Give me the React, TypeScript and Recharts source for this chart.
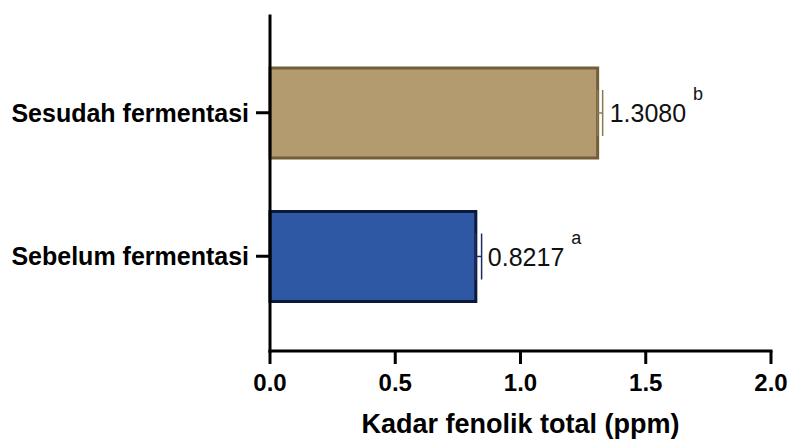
import React from "react";
import { BarChart, Bar, XAxis, YAxis, ErrorBar, LabelList, Label } from "recharts";

const categories = ["Sesudah fermentasi", "Sebelum fermentasi"];
const seriesKeys = ["sesudah", "sebelum"];
const kadarFenolik = [1.308, 0.8217];
const kadarLabels = ["1.3080", "0.8217"];
const galat = [0.02, 0.023];
const notasi = ["b", "a"];
const xTicks = [0, 0.5, 1, 1.5, 2];

const fills = ["#B39B6F", "#2E58A3"];
const strokes = ["#735E3A", "#0B1A3B"];
const errColors = ["#8C7850", "#1C2C60"];

const FONT = "'Liberation Sans', Arial, Helvetica, sans-serif";

const data = categories.map((name, i) => ({
  name,
  [seriesKeys[i]]: kadarFenolik[i],
  [`${seriesKeys[i]}Err`]: [0, galat[i]],
}));

const makeValueLabel = (si: number) => (props: any) => {
  const { x, y, width, height, value } = props;
  const v = Array.isArray(value) ? value[1] - value[0] : Number(value);
  if (!v || !Number(width)) return null;
  const tx = Number(x) + Number(width) + 12;
  const cy = Number(y) + Number(height) / 2;
  return (
    <text x={tx} y={cy + 9} fontSize={25} fill="#111" fontFamily={FONT}>
      {kadarLabels[si]}
      <tspan dx={7} dy={-22} fontSize={18}>
        {notasi[si]}
      </tspan>
    </text>
  );
};

const App = () => {
  return (
    <div style={{ position: "absolute", left: 0, top: 0, background: "#fff" }}>
      <BarChart
        width={790}
        height={439}
        data={data}
        layout="vertical"
        margin={{ top: 16, right: 19, bottom: 0, left: 0 }}
        barSize={90}
      >
        {seriesKeys.map((k, i) => (
          <Bar
            key={k}
            dataKey={k}
            stackId="kadar"
            fill={fills[i]}
            stroke={strokes[i]}
            strokeWidth={3}
            isAnimationActive={false}
          >
            <ErrorBar
              dataKey={`${k}Err`}
              direction="x"
              width={23}
              stroke={errColors[i]}
              strokeWidth={1.5}
              isAnimationActive={false}
            />
            <LabelList dataKey={k} content={makeValueLabel(i)} />
          </Bar>
        ))}
        <YAxis
          type="category"
          dataKey="name"
          width={270}
          padding={{ top: 25, bottom: 23 }}
          axisLine={{ stroke: "#000", strokeWidth: 3, strokeLinecap: "square" }}
          tickLine={{ stroke: "#000", strokeWidth: 3 }}
          tickSize={14}
          tickMargin={7}
          tick={{ fill: "#000", fontSize: 25, fontWeight: "bold", fontFamily: FONT }}
        />
        <XAxis
          type="number"
          domain={[0, 2]}
          ticks={xTicks}
          tickFormatter={(v: number) => v.toFixed(1)}
          height={88}
          axisLine={{ stroke: "#000", strokeWidth: 3, strokeLinecap: "square" }}
          tickLine={{ stroke: "#000", strokeWidth: 3 }}
          tickSize={13}
          tickMargin={10}
          tick={{ fill: "#000", fontSize: 24, fontWeight: "bold", fontFamily: FONT }}
        >
          <Label
            value="Kadar fenolik total (ppm)"
            position="insideBottom"
            offset={6}
            fill="#000"
            fontSize={27}
            fontWeight="bold"
            fontFamily={FONT}
          />
        </XAxis>
      </BarChart>
    </div>
  );
};

export default App;
